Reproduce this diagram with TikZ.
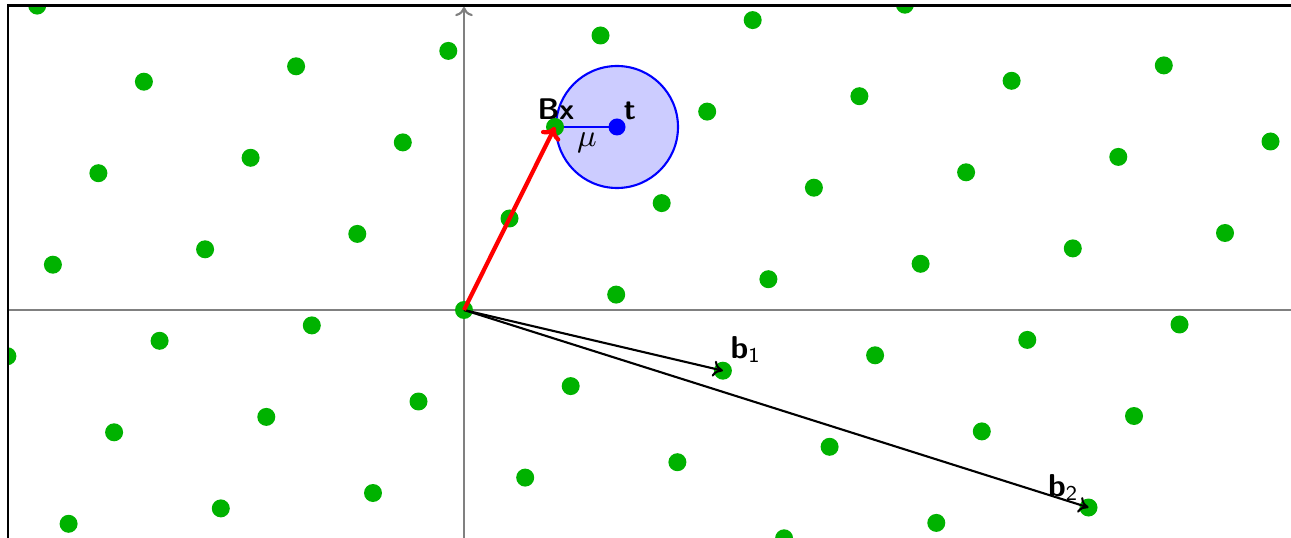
\documentclass[tikz,border=0pt]{standalone}
\usepackage{amsmath,amssymb}
\usepackage{xcolor}
\usepackage{tikz}
\usetikzlibrary{arrows.meta,calc}
\definecolor{figline}{RGB}{0,0,0}
\definecolor{figaxis}{RGB}{128,128,128}
\definecolor{figdot}{RGB}{0,178,0}
\definecolor{figball}{RGB}{204,204,255}
\definecolor{figtgt}{RGB}{0,0,255}
\definecolor{figray}{RGB}{255,0,0}
\tikzset{
  frm/.style  ={draw=figline, line width=0.8pt},
  axs/.style  ={draw=figaxis, line width=0.6pt},
  axa/.style  ={axs, -{To[length=2.6pt,width=5pt]}},
  lp/.style   ={fill=figdot},
  tp/.style   ={fill=figtgt},
  ball/.style ={draw=figtgt, fill=figball, line width=0.6pt},
  seg/.style  ={draw=figtgt, line width=0.6pt},
  vec/.style  ={draw=figline, line width=0.6pt, -{To[length=2.8pt,width=4.6pt]}},
  vecr/.style ={draw=figray, line width=1.2pt, -{To[length=3.4pt,width=6pt]}},
  lab/.style  ={font=\fontsize{8.5}{9}\selectfont\sffamily\bfseries, inner sep=0pt},
  labs/.style ={font=\fontsize{9}{10}\selectfont, inner sep=0pt},
}

\begin{document}
\begin{tikzpicture}[scale=1]
  \useasboundingbox (-4.64,-2.27) rectangle (8.27,3.10);
  \coordinate (O) at (0,0);
  \coordinate (b1) at (2.589,-0.607);
  \coordinate (b2) at (6.245,-1.975);
  \coordinate (Bx) at (0.910,1.830);
  \coordinate (t) at (1.530,1.830);
  \begin{scope}
  \clip (-4.56,-2.6) rectangle (8.6,3.045);
  \draw[axs] (-4.56,0) -- (8.6,0);
  \draw[axa] (0,-2.6) -- (0,3.03);
  \draw[ball] (t) circle (0.61);
  \draw[seg] (Bx) -- (t);
  \fill[lp] (-4.566,-0.462) circle (0.09);
  \fill[lp] (-3.044,-0.308) circle (0.09);
  \fill[lp] (-1.522,-0.154) circle (0.09);
  \fill[lp] (0,0) circle (0.09);
  \fill[lp] (1.522,0.154) circle (0.09);
  \fill[lp] (3.044,0.308) circle (0.09);
  \fill[lp] (4.566,0.462) circle (0.09);
  \fill[lp] (6.088,0.616) circle (0.09);
  \fill[lp] (7.610,0.770) circle (0.09);
  \fill[lp] (-4.111,0.453) circle (0.09);
  \fill[lp] (-2.589,0.607) circle (0.09);
  \fill[lp] (-1.067,0.761) circle (0.09);
  \fill[lp] (0.455,0.915) circle (0.09);
  \fill[lp] (1.977,1.069) circle (0.09);
  \fill[lp] (3.499,1.223) circle (0.09);
  \fill[lp] (5.021,1.377) circle (0.09);
  \fill[lp] (6.543,1.531) circle (0.09);
  \fill[lp] (8.065,1.685) circle (0.09);
  \fill[lp] (-3.656,1.368) circle (0.09);
  \fill[lp] (-2.134,1.522) circle (0.09);
  \fill[lp] (-0.612,1.676) circle (0.09);
  \fill[lp] (0.910,1.830) circle (0.09);
  \fill[lp] (2.432,1.984) circle (0.09);
  \fill[lp] (3.954,2.138) circle (0.09);
  \fill[lp] (5.476,2.292) circle (0.09);
  \fill[lp] (6.998,2.446) circle (0.09);
  \fill[lp] (-3.201,2.283) circle (0.09);
  \fill[lp] (-1.679,2.437) circle (0.09);
  \fill[lp] (-0.157,2.591) circle (0.09);
  \fill[lp] (1.365,2.745) circle (0.09);
  \fill[lp] (2.887,2.899) circle (0.09);
  \fill[lp] (4.409,3.053) circle (0.09);
  \fill[lp] (-4.268,3.044) circle (0.09);
  \fill[lp] (-3.499,-1.223) circle (0.09);
  \fill[lp] (-1.977,-1.069) circle (0.09);
  \fill[lp] (-0.455,-0.915) circle (0.09);
  \fill[lp] (1.067,-0.761) circle (0.09);
  \fill[lp] (2.589,-0.607) circle (0.09);
  \fill[lp] (4.111,-0.453) circle (0.09);
  \fill[lp] (5.633,-0.299) circle (0.09);
  \fill[lp] (7.155,-0.145) circle (0.09);
  \fill[lp] (-3.954,-2.138) circle (0.09);
  \fill[lp] (-2.432,-1.984) circle (0.09);
  \fill[lp] (-0.910,-1.830) circle (0.09);
  \fill[lp] (0.612,-1.676) circle (0.09);
  \fill[lp] (2.134,-1.522) circle (0.09);
  \fill[lp] (3.656,-1.368) circle (0.09);
  \fill[lp] (5.178,-1.214) circle (0.09);
  \fill[lp] (6.700,-1.060) circle (0.09);
  \fill[lp] (3.201,-2.283) circle (0.09);
  \fill[lp] (4.723,-2.129) circle (0.09);
  \fill[lp] (6.245,-1.975) circle (0.09);
  \draw[vec] (O) -- (b1);
  \draw[vec] (O) -- (b2);
  \draw[vecr] (O) -- (Bx);
  \fill[tp] (t) circle (0.085);
  \node[labs] (lmu) at ($(Bx)!0.5!(t)+(0.01,-0.16)$) {$\mu$};
  \node[lab] (lBx) at ($(Bx)+(0.01,0.18)$) {Bx};
  \node[lab] (lt) at ($(t)+(0.13,0.16)$) {t};
  \node[labs] (lb1) at ($(b1)+(0.23,0.21)$) {$\textbf{\textsf{b}}_{\textsf{1}}$};
  \node[labs] (lb2) at ($(b2)+(-0.25,0.20)$) {$\textbf{\textsf{b}}_{\textsf{2}}$};
  \end{scope}
  \draw[frm] (-4.56,-2.6) rectangle (8.6,3.045);
\end{tikzpicture}
\end{document}
